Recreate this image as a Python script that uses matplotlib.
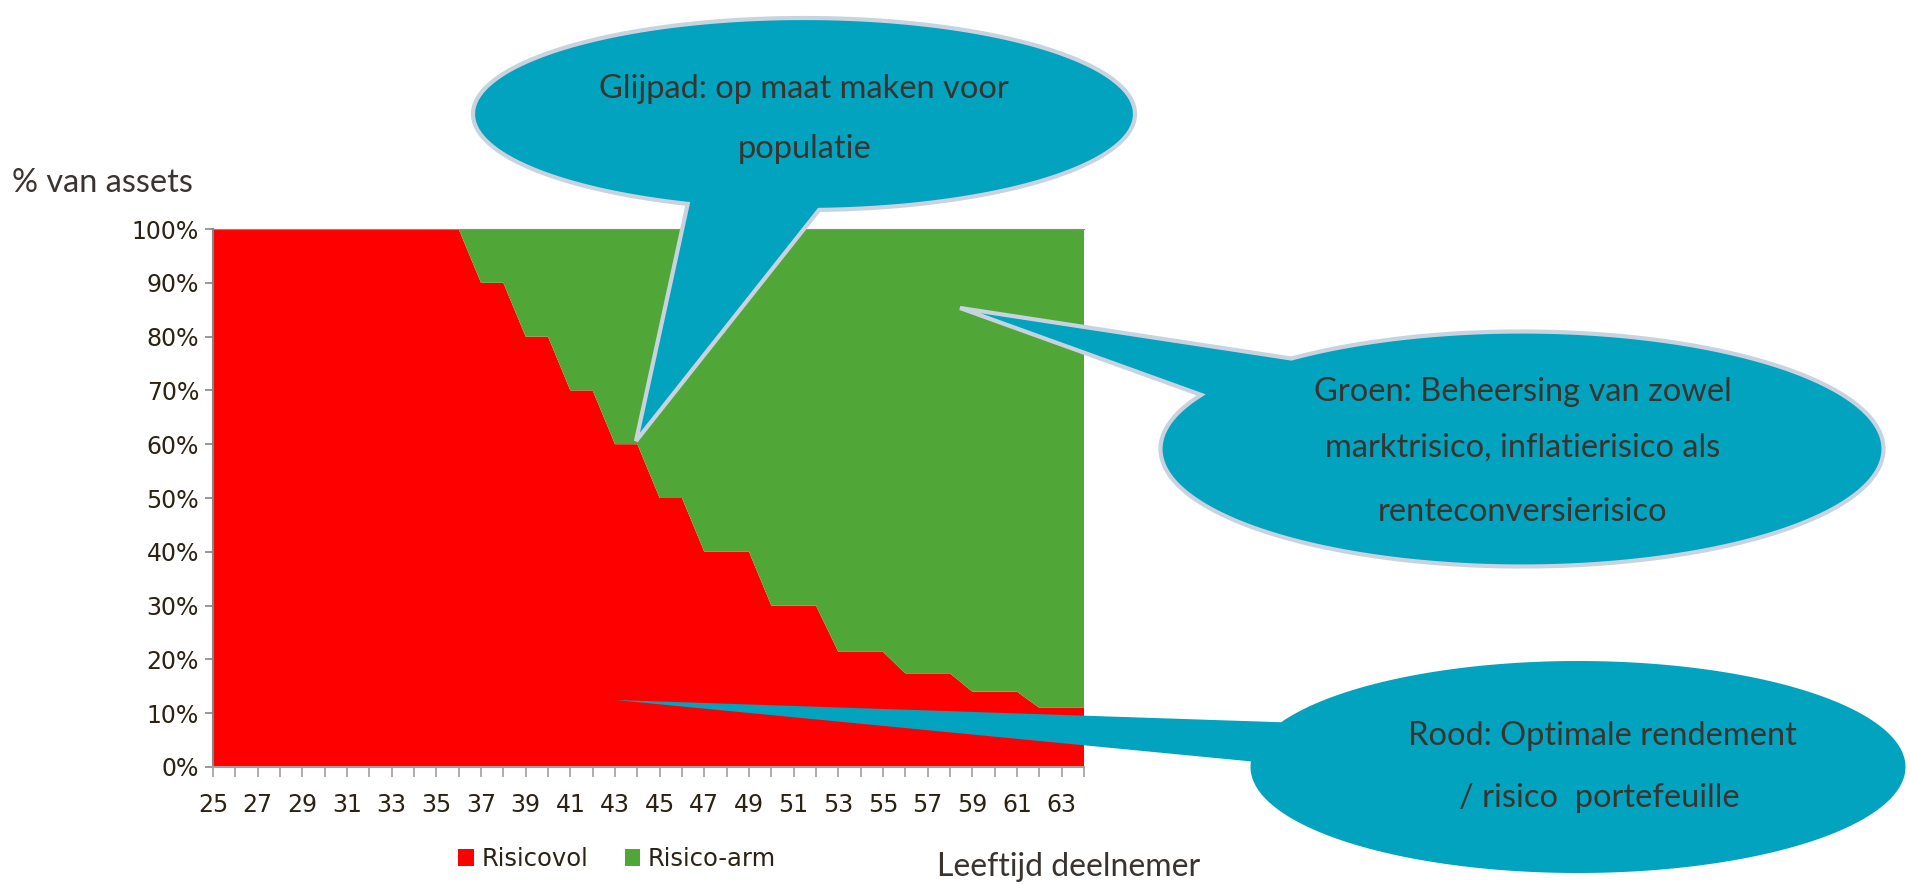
import numpy as np
import matplotlib
matplotlib.use("Agg")
import matplotlib.pyplot as plt
from matplotlib.patches import Polygon, Patch
from matplotlib.ticker import FuncFormatter

# Data: leeftijd en verdeling (in %)
leeftijd = list(range(25, 65))
risicovol = [100, 100, 100, 100, 100, 100, 100, 100, 100, 100, 100, 100,
             90, 90, 80, 80, 70, 70, 60, 60, 50, 50,
             40, 40, 40, 30, 30, 30, 21.4, 21.4, 21.4,
             17.4, 17.4, 17.4, 14, 14, 14, 11, 11, 11]
risico_arm = [0, 0, 0, 0, 0, 0, 0, 0, 0, 0, 0, 0,
              10, 10, 20, 20, 30, 30, 40, 40, 50, 50,
              60, 60, 60, 70, 70, 70, 78.6, 78.6, 78.6,
              82.6, 82.6, 82.6, 86, 86, 86, 89, 89, 89]
y_ticks = [0, 10, 20, 30, 40, 50, 60, 70, 80, 90, 100]
series_namen = ["Risicovol", "Risico-arm"]

ROOD = "#ff0000"
GROEN = "#50a738"
TEAL = "#02a3be"
RAND = "#c9d3df"
TEKST = "#3a3430"
TICK = "#2b2213"
FONT = "Lato"

W, H = 1910, 884
fig = plt.figure(figsize=(W / 100, H / 100), dpi=100)

# Grafiek
ax = fig.add_axes([213 / W, 1 - 767 / H, (1084 - 213) / W, (767 - 229) / H])
ax.stackplot(leeftijd, risicovol, risico_arm, colors=[ROOD, GROEN], linewidth=0)
ax.set_xlim(leeftijd[0], leeftijd[-1])
ax.set_ylim(0, 100)
ax.set_yticks(y_ticks)
ax.yaxis.set_major_formatter(FuncFormatter(lambda v, p: f"{int(v)}%"))
ax.set_xticks(leeftijd)
ax.set_xticklabels([str(a) if a % 2 == 1 else "" for a in leeftijd])
ax.tick_params(axis="y", direction="out", length=6, width=1.2, color="#868686",
               pad=4, labelsize=17, labelcolor=TICK)
ax.tick_params(axis="x", direction="out", length=7, width=1.2, color="#a0a0a0",
               pad=12, labelsize=17, labelcolor=TICK)
ax.spines["right"].set_visible(False)
ax.spines["left"].set_color("#868686")
ax.spines["bottom"].set_color("#a0a0a0")
ax.spines["top"].set_color("#8a8a8a")
for s in ["left", "bottom"]:
    ax.spines[s].set_linewidth(1.5)

# Legenda
handles = [Patch(facecolor=ROOD), Patch(facecolor=GROEN)]
fig.legend(handles, series_namen, loc="center", ncol=2,
           bbox_to_anchor=(617 / W, 1 - 859 / H), frameon=False,
           fontsize=17.5, handlelength=0.65, handleheight=0.65, handletextpad=0.3,
           columnspacing=1.5, labelcolor=TICK)

# Laag voor de tekstballonnen, in pixels
ov = fig.add_axes([0, 0, 1, 1], facecolor="none")
ov.set_xlim(0, W)
ov.set_ylim(H, 0)
ov.axis("off")


def ballon(cx, cy, w, h, basis1, basis2, punt, rand=True):
    a, b = w / 2, h / 2
    t1 = np.arctan2((basis1[1] - cy) / b, (basis1[0] - cx) / a)
    t2 = np.arctan2((basis2[1] - cy) / b, (basis2[0] - cx) / a)
    d = (t2 - t1) % (2 * np.pi)
    if d < np.pi:
        ts = np.linspace(t2, t1 + 2 * np.pi, 300)
    else:
        ts = np.linspace(t1, t2 + 2 * np.pi, 300)
    pts = np.column_stack([cx + a * np.cos(ts), cy + b * np.sin(ts)])
    pts = np.vstack([pts, punt])
    ov.add_patch(Polygon(pts, closed=True, facecolor=TEAL,
                         edgecolor=RAND if rand else "none",
                         linewidth=3, joinstyle="miter"))


ballon(804, 114, 662, 192, (694, 199), (818, 203), (636, 441))
ballon(1522, 449, 723, 235, (1262, 347), (1184, 392), (960, 308))
ballon(1578, 767, 655, 212, (1306, 726), (1285, 762), (615, 700), rand=False)

tekst_kw = dict(ha="center", va="center", fontsize=23.5, color=TEKST, family=FONT)
ov.text(804, 89, "Glijpad: op maat maken voor", **tekst_kw)
ov.text(805, 149, "populatie", **tekst_kw)
ov.text(1523, 392, "Groen: Beheersing van zowel", **tekst_kw)
ov.text(1523, 448, "marktrisico, inflatierisico als", **tekst_kw)
ov.text(1523, 512, "renteconversierisico", **tekst_kw)
ov.text(1602, 736, "Rood: Optimale rendement", **tekst_kw)
ov.text(1599, 798, "/ risico  portefeuille", **tekst_kw)

ov.text(12, 183, "% van assets", ha="left", va="center", fontsize=23.4,
        color=TEKST, family=FONT)
ov.text(1069, 867, "Leeftijd deelnemer", ha="center", va="center", fontsize=23,
        color=TEKST, family=FONT)

fig.savefig("out.png", dpi=100)
